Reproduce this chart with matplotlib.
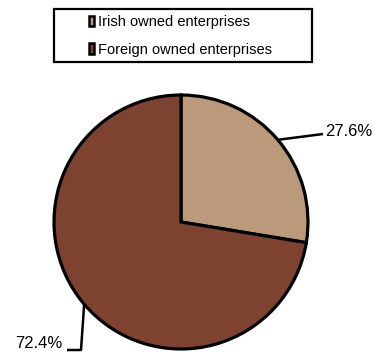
import matplotlib
matplotlib.use("Agg")
import matplotlib.pyplot as plt
from matplotlib.patches import Rectangle, Patch
import numpy as np

# data
categories = ["Irish owned enterprises", "Foreign owned enterprises"]
shares = [27.6, 72.4]
pct_labels = ["27.6%", "72.4%"]
colors = ["#ba9a7b", "#7d4330"]

plt.rcParams["font.family"] = ["Liberation Sans", "DejaVu Sans"]

W, H = 374, 354
fig = plt.figure(figsize=(W / 100, H / 100), dpi=100)
ax = fig.add_axes([0, 0, 1, 1])

cx, cy, r = 181, 132, 127
wedges, _ = ax.pie(shares, colors=colors, startangle=90, counterclock=False,
                   center=(cx, cy), radius=r, frame=True,
                   wedgeprops=dict(edgecolor="black", linewidth=2.3))
ax.set_xlim(0, W)
ax.set_ylim(0, H)
ax.set_aspect("equal")
ax.axis("off")

# leader lines and labels
for w, lab in zip(wedges, pct_labels):
    ang = np.deg2rad((w.theta1 + w.theta2) / 2)
    ex, ey = cx + r * np.cos(ang), cy + r * np.sin(ang)
    if np.cos(ang) > 0:
        ax.plot([ex, 323], [ey, 220], color="black", lw=1.8, solid_capstyle="butt")
        ax.text(325, 222, lab, ha="left", va="center", fontsize=12)
    else:
        ax.plot([ex, 81, 67], [ey, 4, 4], color="black", lw=1.8, solid_capstyle="butt")
        ax.text(62, 10, lab, ha="right", va="center", fontsize=12)

# legend
handles = [Patch(facecolor=c, edgecolor="black", linewidth=1.8) for c in colors]
fig.legend(handles, categories, loc="upper left",
           bbox_to_anchor=(89 / W, 1 - 15 / H), frameon=False,
           fontsize=10.5, handlelength=0.35, handleheight=0.75,
           handletextpad=0.25, labelspacing=0.95, borderpad=0, borderaxespad=0)
fig.patches.append(Rectangle((54 / W, 1 - 62 / H), 258 / W, 53 / H,
                             transform=fig.transFigure, fill=False,
                             edgecolor="black", linewidth=1.6))

fig.savefig("out.png", dpi=100)
